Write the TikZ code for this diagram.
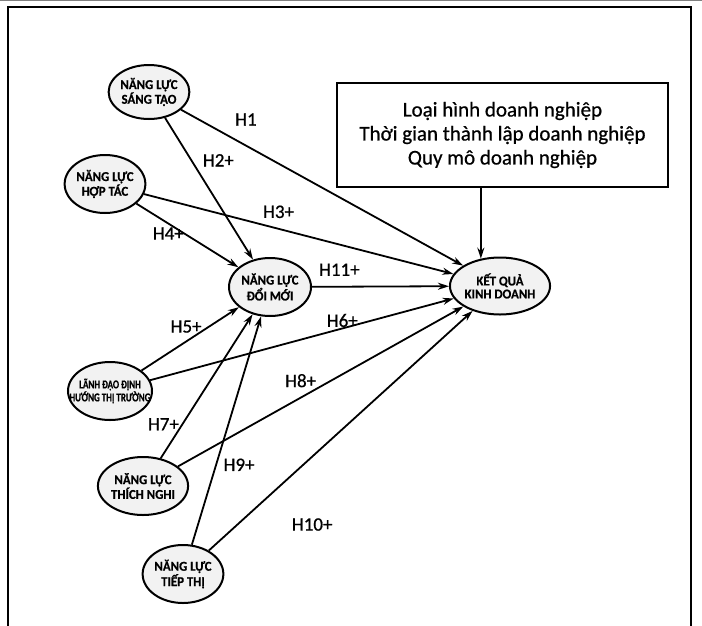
\documentclass[tikz,border=0pt]{standalone}
\usepackage{fontspec}
\setmainfont{Carlito}
\newfontfamily\kqtextfont{Carlito}[FakeBold=0.7]
\newfontfamily\kqnodefont{Carlito}[FakeStretch=0.95,BoldFeatures={FakeBold=0.6}]
\newfontfamily\kqnarrowfont{Carlito}[FakeStretch=0.75,BoldFeatures={FakeBold=0.6}]
\usepackage{tikz}
\usetikzlibrary{arrows.meta,shapes,positioning,calc}
\newcommand{\kqtight}[1]{\makebox[40pt]{#1}}
\tikzset{
  kqconstruct/.style={
    ellipse, draw=black, fill=gray!10, line width=2pt,
    minimum width=80pt, minimum height=58pt, inner sep=0pt, align=center,
    font=\kqnodefont\bfseries\fontsize{13.5}{13}\selectfont
  },
  kqcontrol/.style={
    rectangle, draw=black, line width=2.4pt,
    minimum width=331pt, minimum height=104pt, align=center,
    font=\kqtextfont\fontsize{21}{24}\selectfont
  },
  kqedge/.style={-{Stealth[length=11pt,width=7pt]},line width=1.8pt},
  kqlabel/.style={font=\kqtextfont\fontsize{19}{22}\selectfont,inner sep=1pt},
  kqframe/.style={draw=black,line width=2.5pt}
}

\begin{document}
\begin{tikzpicture}[x=1pt,y=-1pt]
  \useasboundingbox (0,0) rectangle (702,625);
  \draw[line width=1pt,gray] (0,0.6) -- (702,0.6);
  \draw[kqframe] (8,7) rectangle (691,660);
  % constructs
  \node[kqconstruct,minimum width=78pt,minimum height=54pt] (sangtao) at (149,92) {NĂNG LỰC\\SÁNG TẠO};
  \node[kqconstruct] (hoptac) at (105,184) {NĂNG LỰC\\HỢP TÁC};
  \node[kqconstruct,minimum width=82pt] (doimoi) at (270,287) {NĂNG LỰC\\ĐỔI MỚI};
  \node[kqconstruct,minimum width=90pt,minimum height=57pt] (ketqua) at (500,286) {KẾT QUẢ\\KINH DOANH};
  \node[kqconstruct,minimum width=84pt,font=\kqnarrowfont\bfseries\fontsize{12}{13}\selectfont] (lanhdao) at (110,391) {\kqtight{LÃNH ĐẠO ĐỊNH}\\\kqtight{HƯỚNG THỊ TRƯỜNG}};
  \node[kqconstruct] (thichnghi) at (143,486) {NĂNG LỰC\\THÍCH NGHI};
  \node[kqconstruct] (tiepthi) at (183,574) {NĂNG LỰC\\TIẾP THỊ};
  \node[kqcontrol] (ctrl) at (502.5,135) {Loại hình doanh nghiệp\\Thời gian thành lập doanh nghiệp\\Quy mô doanh nghiệp};
  % control variables
  \draw[kqedge] (ketqua.125 |- ctrl.south) -- (ketqua.125);
  % hypotheses
  \draw[kqedge] (sangtao) -- node[kqlabel,pos=.23,yshift=26pt] {H1} (ketqua);
  \draw[kqedge] (sangtao) -- node[kqlabel,pos=.30,xshift=27pt] {H2+} (doimoi);
  \draw[kqedge] (hoptac) -- node[kqlabel,pos=.435,yshift=17pt] {H3+} (ketqua);
  \draw[kqedge] (hoptac) -- node[kqlabel,pos=.314,yshift=-10pt] {H4+} (doimoi);
  \draw[kqedge] (lanhdao) -- node[kqlabel,pos=.458,yshift=15pt] {H5+} (doimoi);
  \draw[kqedge] (lanhdao) -- node[kqlabel,pos=.633,yshift=8pt] {H6+} (ketqua);
  \draw[kqedge] (thichnghi) -- node[kqlabel,pos=.237,xshift=-19pt] {H7+} (doimoi);
  \draw[kqedge] (thichnghi) -- node[kqlabel,pos=.43,yshift=17pt] {H8+} (ketqua);
  \draw[kqedge] (tiepthi) -- node[kqlabel,pos=.35,xshift=23pt] {H9+} (doimoi);
  \draw[kqedge] (tiepthi) -- node[kqlabel,pos=.263,xshift=34pt,yshift=-37pt] {H10+} (ketqua);
  \draw[kqedge] (doimoi) -- node[kqlabel,pos=.2,yshift=17pt] {H11+} (ketqua);
\end{tikzpicture}
\end{document}
